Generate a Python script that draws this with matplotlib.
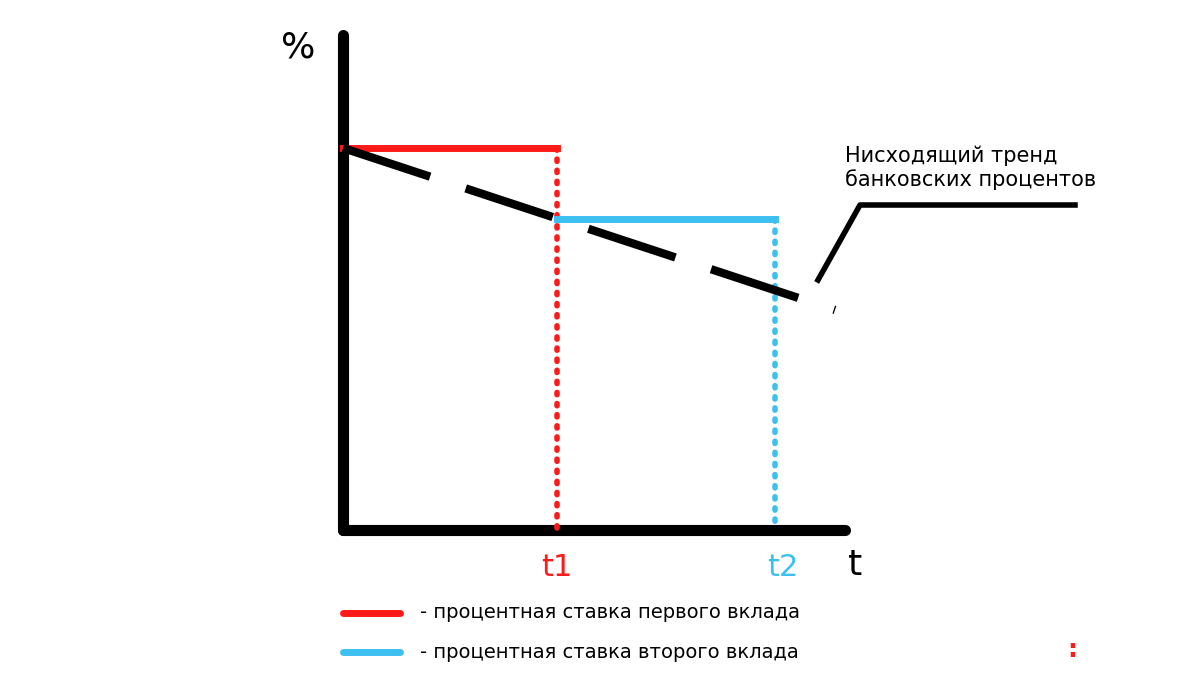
import matplotlib
matplotlib.use('Agg')
import matplotlib.pyplot as plt

# schematic coordinates (pixel-like space, y grows downward)
axis_x0, axis_y0 = 343, 530
axis_top, axis_right = 35, 845
t_pos = [557, 775]
t_labels = ['t1', 't2']
rates = [148, 219]
colors = ['#ff1a1a', '#3dbff0']
trend_x = [343, 835]
trend_y = [148, 310]
pointer_x = [818, 860, 1075]
pointer_y = [280, 205, 205]
legend_labels = ['- процентная ставка первого вклада',
                 '- процентная ставка второго вклада']
legend_y = [613, 652]

fig = plt.figure(figsize=(12, 6.75), dpi=100)
ax = fig.add_axes([0, 0, 1, 1])
ax.set_xlim(0, 1200)
ax.set_ylim(675, 0)
ax.axis('off')

# axes
ax.plot([axis_x0, axis_x0], [axis_top, axis_y0], color='black', lw=8, solid_capstyle='round')
ax.plot([axis_x0, axis_right], [axis_y0, axis_y0], color='black', lw=8, solid_capstyle='round')
ax.text(298, 48, '%', fontsize=26, ha='center', va='center')
ax.text(855, 565, 't', fontsize=26, ha='center', va='center')

# rate steps
starts = [axis_x0] + t_pos[:-1]
for x0, x1, r, c, lab in zip(starts, t_pos, rates, colors, t_labels):
    ax.plot([x0, x1], [r, r], color=c, lw=5)
    ax.plot([x1, x1], [r, axis_y0], color=c, lw=4, linestyle=(0, (0.4, 1.6)),
            dash_capstyle='round')
    ax.text(x1 + (8 if lab == 't2' else 0), 568, lab, color=c, fontsize=22,
            ha='center', va='center')

# trend
ax.plot(trend_x, trend_y, color='black', lw=6, dashes=(11, 4.5))
ax.plot(pointer_x, pointer_y, color='black', lw=4)
ax.text(845, 145, 'Нисходящий тренд\nбанковских процентов', fontsize=15,
        ha='left', va='top', linespacing=1.2)

# legend
for y, c, lab in zip(legend_y, colors, legend_labels):
    ax.plot([343, 400], [y, y], color=c, lw=5, solid_capstyle='round')
    ax.text(420, y, lab, fontsize=14, ha='left', va='center')

ax.text(1072, 650, ':', color='#ff1a1a', fontsize=18, ha='center', va='center',
        fontweight='bold')

plt.savefig('out.png', dpi=100)
